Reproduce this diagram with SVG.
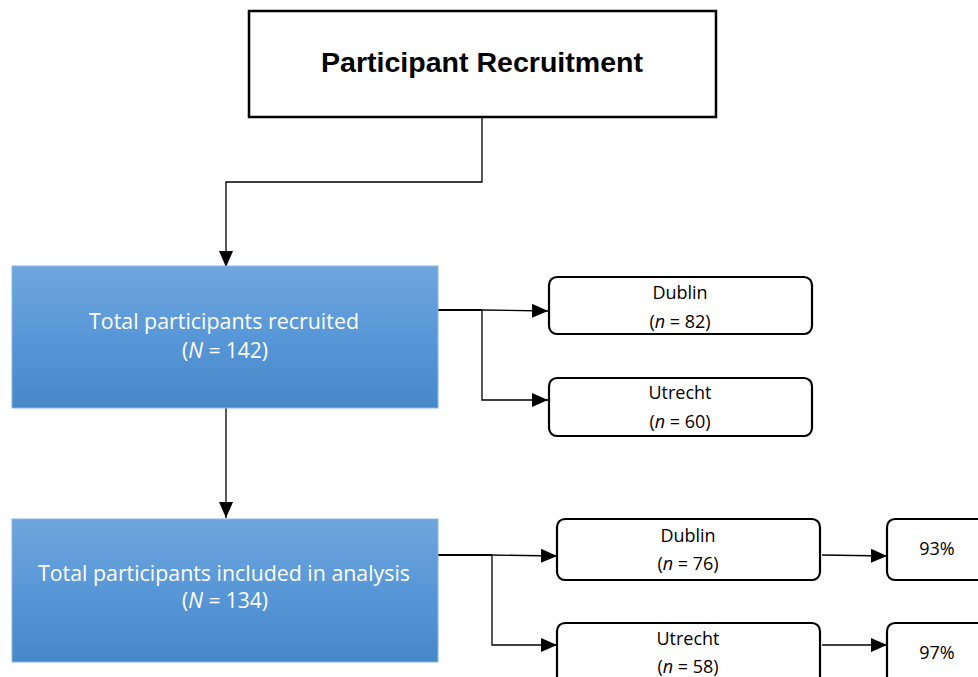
<svg xmlns="http://www.w3.org/2000/svg" width="978" height="677" viewBox="0 0 978 677">
<defs>
<linearGradient id="blue" x1="0" y1="0" x2="0" y2="1">
<stop offset="0" stop-color="#6fa6dd"/>
<stop offset="0.5" stop-color="#5897d7"/>
<stop offset="1" stop-color="#4788c9"/>
</linearGradient>
<marker id="arr" viewBox="0 0 16 14" refX="16" refY="7" markerWidth="16" markerHeight="14" markerUnits="userSpaceOnUse" orient="auto">
<path d="M0,0 L16,7 L0,14 Z" fill="#000"/>
</marker>
<style>
.title{font-family:"Liberation Sans",Arial,sans-serif;font-weight:bold;font-size:27px;fill:#000;text-anchor:middle}
.blue{fill:url(#blue);stroke:#8ab6e3;stroke-width:1}
.wt{font-family:"Open Sans","Liberation Sans",sans-serif;font-size:21px;fill:#fff;text-anchor:middle}
.rb{fill:#fff;stroke:#000;stroke-width:2.2}
.bt{font-family:"Open Sans","Liberation Sans",sans-serif;font-size:18px;fill:#000;text-anchor:middle}
.ln{fill:none;stroke:#000;stroke-width:1.3}
.lnb{fill:none;stroke:#000;stroke-width:2}
</style>
</defs>
<rect width="978" height="677" fill="#fff"/>
<g id="connectors">
<path class="ln" d="M482,117 V182 H226 V267" marker-end="url(#arr)"/>
<path class="ln" d="M226,408 V518" marker-end="url(#arr)"/>
<path class="lnb" d="M438,310 H482"/>
<path class="ln" d="M482,310 L548,311" marker-end="url(#arr)"/>
<path class="ln" d="M482,310 V400 H548" marker-end="url(#arr)"/>
<path class="lnb" d="M438,555 H492"/>
<path class="ln" d="M492,555 L557,556" marker-end="url(#arr)"/>
<path class="ln" d="M492,555 V645 H557" marker-end="url(#arr)"/>
<path class="ln" d="M822,555 L887,556" marker-end="url(#arr)"/>
<path class="ln" d="M822,645 H887" marker-end="url(#arr)"/>
</g>
<g id="recruitment">
<rect x="249" y="11" width="467" height="106" fill="#fff" stroke="#000" stroke-width="2.5"/>
<text class="title" x="482" y="72" textLength="322" lengthAdjust="spacingAndGlyphs">Participant Recruitment</text>
</g>
<g id="total-recruited">
<rect class="blue" x="12" y="266" width="426" height="142"/>
<text class="wt" x="224" y="329" textLength="270" lengthAdjust="spacingAndGlyphs">Total participants recruited</text>
<text class="wt" x="225" y="358">(<tspan font-style="italic">N</tspan> = 142)</text>
</g>
<g id="dublin-recruited">
<rect class="rb" x="549" y="277" width="263" height="57" rx="8"/>
<text class="bt" x="680" y="299">Dublin</text>
<text class="bt" x="680" y="328">(<tspan font-style="italic">n</tspan> = 82)</text>
</g>
<g id="utrecht-recruited">
<rect class="rb" x="549" y="378" width="263" height="58" rx="8"/>
<text class="bt" x="680" y="399">Utrecht</text>
<text class="bt" x="680" y="428">(<tspan font-style="italic">n</tspan> = 60)</text>
</g>
<g id="total-analysis">
<rect class="blue" x="12" y="519" width="426" height="143"/>
<text class="wt" x="224" y="581" textLength="372" lengthAdjust="spacingAndGlyphs">Total participants included in analysis</text>
<text class="wt" x="225" y="608">(<tspan font-style="italic">N</tspan> = 134)</text>
</g>
<g id="dublin-analysis">
<rect class="rb" x="557" y="519" width="263" height="61" rx="8"/>
<text class="bt" x="688" y="542">Dublin</text>
<text class="bt" x="688" y="570">(<tspan font-style="italic">n</tspan> = 76)</text>
</g>
<g id="utrecht-analysis">
<rect class="rb" x="557" y="623" width="263" height="70" rx="8"/>
<text class="bt" x="688" y="645">Utrecht</text>
<text class="bt" x="688" y="673">(<tspan font-style="italic">n</tspan> = 58)</text>
</g>
<g id="dublin-pct">
<rect class="rb" x="887" y="519" width="110" height="61" rx="8"/>
<text class="bt" x="937" y="555">93%</text>
</g>
<g id="utrecht-pct">
<rect class="rb" x="887" y="623" width="110" height="70" rx="8"/>
<text class="bt" x="937" y="659">97%</text>
</g>
</svg>
